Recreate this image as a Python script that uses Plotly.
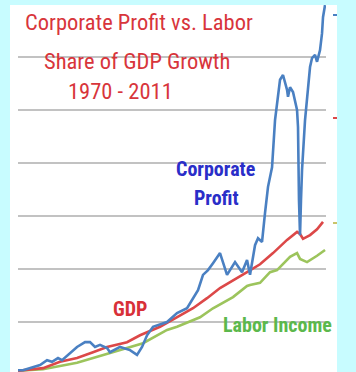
import plotly.graph_objects as go

# ---- data (index, % growth units) ----
profit_year = [1970.00, 1970.67, 1972.95, 1973.89, 1974.56, 1975.36, 1975.90, 1976.70, 1977.91, 1978.98,
               1979.65, 1980.32, 1980.99, 1981.93, 1982.33, 1983.67, 1985.01, 1985.95, 1986.62, 1987.29,
               1988.09, 1989.97, 1991.31, 1992.65, 1993.45, 1994.12, 1994.79, 1995.46, 1996.13, 1997.07,
               1998.01, 1999.08, 2000.02, 2000.69, 2001.09, 2001.76, 2002.16, 2002.70, 2003.10, 2003.50,
               2004.04, 2004.44, 2005.11, 2005.51, 2006.05, 2006.18, 2006.45, 2006.85, 2007.39, 2007.52,
               2007.65, 2007.79, 2007.92, 2008.06, 2008.46, 2009.13, 2009.40, 2009.80, 2010.07, 2010.47,
               2010.74, 2010.87, 2011.14]
profit_val = [9, 9, 19, 28, 25, 32, 28, 38, 53, 62,
              62, 53, 57, 51, 43, 53, 47, 38, 53, 75,
              91, 100, 117, 126, 145, 160, 189, 198, 211, 230,
              189, 213, 194, 217, 189, 245, 258, 251, 306, 355,
              392, 481, 557, 566, 538, 525, 543, 534, 500, 468,
              330, 264, 330, 387, 481, 581, 598, 604, 591, 613,
              645, 675, 698]

gdp_year = [1970.00, 1973.35, 1975.63, 1977.91, 1980.05, 1981.93, 1984.61, 1986.35, 1989.03, 1991.31,
            1993.45, 1995.33, 1997.07, 2000.69, 2002.43, 2004.17, 2006.05, 2007.39, 2007.79, 2008.19,
            2009.13, 2010.07, 2010.87]
gdp_val = [8, 13, 25, 32, 43, 53, 62, 75, 91, 109,
           126, 145, 164, 194, 209, 230, 255, 270, 266, 257,
           264, 275, 289]

labor_year = [1970.00, 1973.35, 1977.91, 1982.33, 1986.75, 1989.97, 1991.31, 1994.39, 1996.13, 1998.81,
              2000.69, 2001.09, 2002.43, 2003.77, 2004.71, 2006.45, 2006.85, 2007.39, 2007.79, 2008.73,
              2010.07, 2011.14]
labor_val = [8, 11, 23, 42, 60, 85, 91, 109, 126, 147,
             168, 170, 174, 194, 198, 223, 226, 230, 219, 213,
             225, 236]

BLUE = "#4a80c2"
RED = "#dc4848"
GREEN = "#9cc45c"

W, H = 356, 372
L, R, T, B = 18, 30, 5, 0
pw, ph = W - L - R, H - T - B


def px(x):
    return (x - L) / pw


def py(y):
    return (H - B - y) / ph


fig = go.Figure()
fig.add_trace(go.Scatter(x=labor_year, y=labor_val, mode="lines",
                         line=dict(color=GREEN, width=2.6), name="Labor Income"))
fig.add_trace(go.Scatter(x=gdp_year, y=gdp_val, mode="lines",
                         line=dict(color=RED, width=2.6), name="GDP"))
fig.add_trace(go.Scatter(x=profit_year, y=profit_val, mode="lines",
                         line=dict(color=BLUE, width=2.6), name="Corporate Profit"))

shapes = [
    dict(type="rect", xref="paper", yref="paper", x0=px(10), x1=px(337), y0=-0.05, y1=1.0,
         fillcolor="white", line=dict(width=0), layer="below"),
]
for yy, c in [(15, BLUE), (118, RED), (223, "#c9c46a")]:
    shapes.append(dict(type="line", xref="paper", yref="paper", x0=px(333), x1=px(337),
                       y0=py(yy), y1=py(yy), line=dict(color=c, width=2)))

TFONT = "Roboto Condensed, Liberation Sans, Arial, sans-serif"
TITLE_RED = "#d8353b"


def ann(text, x, y, size, color, bold=False):
    return dict(text=("<b>%s</b>" % text) if bold else text, xref="paper", yref="paper",
                x=px(x), y=py(y), xanchor="center", yanchor="middle", showarrow=False,
                font=dict(family=TFONT, size=size, color=color))


annotations = [
    ann("Corporate Profit vs. Labor", 139, 22, 22.5, TITLE_RED),
    ann("Share of GDP Growth", 137, 61, 22.5, TITLE_RED),
    ann("1970 - 2011", 120, 91, 22.5, TITLE_RED),
    ann("Corporate", 215, 169, 20, "#2a2ec8", True),
    ann("Profit", 216, 198, 20, "#2a2ec8", True),
    ann("GDP", 130, 309, 20, "#d83038", True),
    ann("Labor Income", 277, 325, 20, "#5cb84c", True),
]

fig.update_layout(
    width=W, height=H,
    margin=dict(l=L, r=R, t=T, b=B, pad=0),
    paper_bgcolor="#c8fcff",
    plot_bgcolor="white",
    showlegend=False,
    shapes=shapes,
    annotations=annotations,
    xaxis=dict(range=[1970, 2011.27], showgrid=False, zeroline=False, showticklabels=False,
               ticks="", showline=False, fixedrange=True),
    yaxis=dict(range=[5.7, 698.1], dtick=100, tick0=0, showgrid=True, gridcolor="#c2c2c2",
               gridwidth=2, zeroline=False, showticklabels=False, ticks="", showline=False,
               fixedrange=True),
)

fig.write_html("out.html", config={"displayModeBar": False})
